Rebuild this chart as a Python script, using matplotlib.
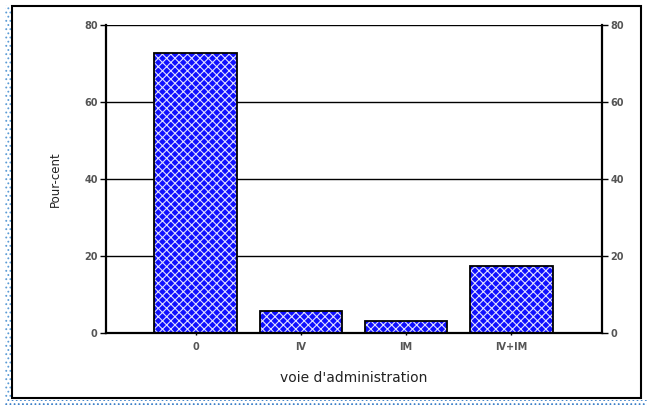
import matplotlib
matplotlib.use("Agg")
import matplotlib.pyplot as plt
from matplotlib.patches import Rectangle

categories = ["0", "IV", "IM", "IV+IM"]
values = [72.8, 5.8, 3.0, 17.4]
yticks = [0, 20, 40, 60, 80]

plt.rcParams['hatch.linewidth'] = 0.8

fig = plt.figure(figsize=(6.47, 4.05), dpi=100)
W, H = 647, 405

# outer frame
fig.patches.append(Rectangle((12/W, 7/H), 629/W, 392/H, transform=fig.transFigure,
                             fill=False, edgecolor='black', linewidth=1.5))
# blue dotted left and bottom bands
fig.patches.append(Rectangle((5/W, 0), 6/W, 400/H, transform=fig.transFigure,
                             facecolor='white', edgecolor='#5b9bd5', hatch='....', linewidth=0))
fig.patches.append(Rectangle((5/W, 0), 642/W, 5/H, transform=fig.transFigure,
                             facecolor='white', edgecolor='#3a7fc8', hatch='....', linewidth=0))

ax = fig.add_axes([106/W, 72/H, 496/W, 308/H])
x = list(range(len(categories)))
# hatched fill (white hatch lines on blue)
ax.bar(x, values, width=0.78, color='#1010ff', edgecolor='#e0e0ff', linewidth=0,
       hatch='xxxx', zorder=3)
# black outline
ax.bar(x, values, width=0.78, fill=False, edgecolor='black', linewidth=1.3, zorder=4)
ax.set_xlim(-0.85, 3.86)
ax.set_ylim(0, 80)
ax.set_yticks(yticks)
for t in yticks[1:]:
    ax.axhline(t, color='black', linewidth=1.0, zorder=1)
ax.axhline(0, color='black', linewidth=1.6, zorder=5, clip_on=False)
ax.spines['top'].set_visible(False)
ax.spines['bottom'].set_visible(False)
ax.spines['left'].set_linewidth(1.6)
ax.spines['right'].set_linewidth(1.6)
ax.tick_params(axis='y', which='both', left=True, right=True, labelleft=True, labelright=True,
               length=4, width=1, direction='out', labelsize=7, labelcolor='#555555', pad=2)
for lab in ax.get_yticklabels(which='both'):
    lab.set_fontweight('bold')
ax.set_xticks(x)
ax.set_xticklabels(categories, fontweight='bold')
ax.tick_params(axis='x', length=3, width=1, direction='inout', labelsize=7, labelcolor='#555555', pad=5)
ax.set_ylabel("Pour-cent", fontsize=8.5, color='#222222', labelpad=16)
ax.set_xlabel("voie d'administration", fontsize=10, color='#222222', labelpad=14)

fig.savefig("out.png", dpi=100)
